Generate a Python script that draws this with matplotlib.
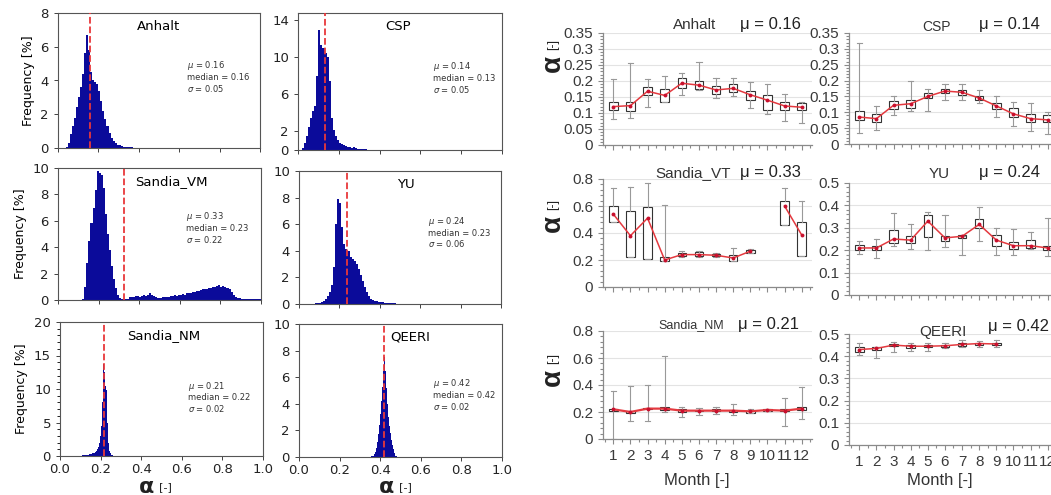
import numpy as np
import matplotlib
matplotlib.use('Agg')
import matplotlib.pyplot as plt
from matplotlib.ticker import MultipleLocator, FixedLocator, NullFormatter

# ---------------- Histogram data (frequency %, per bin) ----------------
anhalt_start, anhalt_bw = 0.04, 0.01
anhalt_freq = [0.05, 0.3, 0.8, 1.3, 1.8, 2.4, 3.0, 3.6, 4.4, 5.6, 6.7, 5.8, 4.5, 4.0,
               3.9, 3.8, 3.4, 2.8, 2.2, 1.7, 1.3, 0.9, 0.6, 0.4, 0.3, 0.2, 0.15, 0.1,
               0.08, 0.06, 0.05, 0.04, 0.03, 0.02]
csp_start, csp_bw = 0.02, 0.01
csp_freq = [0.2, 0.8, 1.5, 2.5, 3.5, 4.2, 4.8, 8.0, 13.0, 11.3, 11.0, 10.5, 10.0, 7.5,
            3.5, 2.2, 1.5, 1.1, 0.8, 0.6, 0.5, 0.4, 0.3, 0.3, 0.25, 0.3, 0.2, 0.15,
            0.1, 0.1, 0.08, 0.06, 0.05, 0.04, 0.03, 0.02]
vm_start, vm_bw = 0.12, 0.01
vm_freq = [0.1, 1.0, 2.8, 4.5, 5.8, 7.0, 8.3, 9.8, 9.6, 9.5, 8.5, 6.5, 5.0, 3.8, 2.6,
           1.6, 0.9, 0.4, 0.15, 0.05, 0.05, 0.05, 0.1, 0.2, 0.25, 0.25, 0.3, 0.3, 0.25,
           0.3, 0.35, 0.3, 0.4, 0.5, 0.4, 0.3, 0.2, 0.15, 0.15, 0.2, 0.2, 0.2, 0.25,
           0.3, 0.3, 0.35, 0.3, 0.35, 0.4, 0.45, 0.4, 0.5, 0.5, 0.55, 0.6, 0.6, 0.65,
           0.7, 0.75, 0.8, 0.8, 0.85, 0.9, 0.9, 0.95, 1.0, 1.05, 1.1, 1.0, 1.05, 0.95,
           0.9, 0.8, 0.6, 0.4, 0.25, 0.15, 0.12, 0.1, 0.1, 0.1, 0.1, 0.1, 0.1, 0.1,
           0.1, 0.1, 0.1]
yu_start, yu_bw = 0.07, 0.01
yu_freq = [0.02, 0.05, 0.08, 0.1, 0.15, 0.25, 0.4, 0.6, 0.9, 1.4, 2.8, 6.0, 7.9, 7.6,
           5.8, 4.5, 4.1, 4.0, 3.5, 3.4, 3.2, 3.0, 2.6, 2.2, 1.7, 1.3, 0.9, 0.6, 0.4,
           0.3, 0.25, 0.2, 0.18, 0.15, 0.12, 0.1, 0.08, 0.07, 0.06, 0.05, 0.04, 0.03,
           0.03, 0.02, 0.02, 0.02, 0.01, 0.01]
nm_start, nm_bw = 0.10, 0.005
nm_freq = [0.05, 0.05, 0.08, 0.1, 0.1, 0.12, 0.15, 0.18, 0.2, 0.25, 0.3, 0.35, 0.4,
           0.5, 0.6, 0.8, 1.0, 1.4, 2.0, 3.0, 4.5, 8.0, 13.7, 12.5, 10.5, 9.8, 5.0,
           2.0, 0.8, 0.4, 0.2, 0.1, 0.05, 0.03]
qe_start, qe_bw = 0.355, 0.005
qe_freq = [0.05, 0.05, 0.1, 0.2, 0.4, 0.7, 1.1, 1.7, 2.4, 3.2, 4.2, 5.3, 6.5, 7.5,
           6.5, 5.2, 4.0, 3.0, 2.3, 1.8, 1.3, 0.9, 0.6, 0.3, 0.1, 0.05]

hist_names = ['Anhalt', 'CSP', 'Sandia_VM', 'YU', 'Sandia_NM', 'QEERI']
hist_mu = [0.16, 0.14, 0.33, 0.24, 0.21, 0.42]
hist_median = [0.16, 0.13, 0.23, 0.23, 0.22, 0.42]
hist_sigma = [0.05, 0.05, 0.22, 0.06, 0.02, 0.02]
hist_line = [0.16, 0.13, 0.325, 0.238, 0.219, 0.42]
hist_ymax = [8, 14.8, 10, 10, 20, 10]
hist_yticks = [[0, 2, 4, 6, 8], [0, 2, 6, 10, 14], [0, 2, 4, 6, 8, 10],
               [0, 2, 4, 6, 8, 10], [0, 5, 10, 15, 20], [0, 2, 4, 6, 8, 10]]
hist_xticks = [0.0, 0.2, 0.4, 0.6, 0.8, 1.0]

# ---------------- Monthly box-plot data ----------------
months = list(range(1, 13))
nan = np.nan
anh_lo = [0.08, 0.085, 0.12, 0.135, 0.157, 0.172, 0.148, 0.152, 0.115, 0.097, 0.075, 0.07]
anh_q1 = [0.11, 0.105, 0.155, 0.135, 0.178, 0.175, 0.16, 0.165, 0.14, 0.11, 0.11, 0.11]
anh_q3 = [0.135, 0.135, 0.18, 0.175, 0.21, 0.2, 0.185, 0.19, 0.17, 0.155, 0.135, 0.13]
anh_hi = [0.205, 0.255, 0.205, 0.215, 0.225, 0.26, 0.21, 0.21, 0.198, 0.19, 0.16, 0.135]
anh_mean = [0.12, 0.123, 0.168, 0.155, 0.193, 0.187, 0.172, 0.177, 0.157, 0.14, 0.122, 0.118]

csp_lo = [0.035, 0.045, 0.09, 0.105, 0.105, 0.14, 0.14, 0.128, 0.085, 0.057, 0.04, 0.03]
csp_q1 = [0.075, 0.07, 0.11, 0.115, 0.145, 0.16, 0.155, 0.14, 0.11, 0.085, 0.07, 0.07]
csp_q3 = [0.105, 0.095, 0.135, 0.14, 0.16, 0.175, 0.17, 0.15, 0.13, 0.115, 0.095, 0.09]
csp_hi = [0.32, 0.12, 0.15, 0.2, 0.172, 0.19, 0.19, 0.17, 0.152, 0.133, 0.128, 0.1]
csp_mean = [0.085, 0.08, 0.122, 0.127, 0.15, 0.167, 0.163, 0.145, 0.12, 0.095, 0.08, 0.076]

vt_lo = [0.48, 0.22, 0.21, 0.19, 0.22, 0.22, 0.225, 0.19, 0.25, nan, 0.46, 0.23]
vt_q1 = [0.48, 0.22, 0.21, 0.19, 0.23, 0.23, 0.23, 0.19, 0.255, nan, 0.46, 0.23]
vt_q3 = [0.6, 0.56, 0.59, 0.22, 0.25, 0.26, 0.245, 0.24, 0.275, nan, 0.64, 0.48]
vt_hi = [0.73, 0.74, 0.77, 0.61, 0.27, 0.27, 0.25, 0.29, 0.28, nan, 0.73, 0.64]
vt_mean = [0.54, 0.38, 0.51, 0.20, 0.24, 0.24, 0.235, 0.215, 0.265, nan, 0.60, 0.385]

yu_lo = [0.185, 0.165, 0.22, 0.205, 0.2, 0.215, 0.18, 0.24, 0.18, 0.18, 0.205, 0.175]
yu_q1 = [0.2, 0.2, 0.23, 0.23, 0.26, 0.24, 0.255, 0.3, 0.22, 0.205, 0.21, 0.2]
yu_q3 = [0.225, 0.22, 0.29, 0.265, 0.355, 0.265, 0.27, 0.34, 0.27, 0.235, 0.245, 0.22]
yu_hi = [0.24, 0.25, 0.365, 0.315, 0.37, 0.355, 0.265, 0.395, 0.3, 0.295, 0.28, 0.345]
yu_mean = [0.21, 0.21, 0.25, 0.245, 0.33, 0.255, 0.262, 0.315, 0.245, 0.22, 0.22, 0.21]

nm_lo = [0.0, 0.135, 0.13, 0.2, 0.165, 0.18, 0.185, 0.18, 0.19, 0.205, 0.1, 0.15]
nm_q1 = [0.21, 0.195, 0.22, 0.215, 0.2, 0.205, 0.205, 0.2, 0.195, 0.21, 0.205, 0.215]
nm_q3 = [0.225, 0.21, 0.23, 0.235, 0.22, 0.215, 0.22, 0.215, 0.21, 0.225, 0.22, 0.235]
nm_hi = [0.355, 0.395, 0.4, 0.615, 0.235, 0.23, 0.235, 0.26, 0.225, 0.225, 0.305, 0.385]
nm_mean = [0.22, 0.2, 0.225, 0.225, 0.21, 0.21, 0.21, 0.21, 0.205, 0.215, 0.21, 0.225]

qe_lo = [0.405, 0.39, 0.42, 0.425, 0.425, 0.435, 0.44, 0.44, 0.44, nan, nan, nan]
qe_q1 = [0.42, 0.43, 0.445, 0.435, 0.44, 0.44, 0.448, 0.45, 0.45, nan, nan, nan]
qe_q3 = [0.44, 0.44, 0.455, 0.45, 0.45, 0.452, 0.458, 0.46, 0.46, nan, nan, nan]
qe_hi = [0.46, 0.44, 0.465, 0.46, 0.46, 0.46, 0.475, 0.47, 0.475, nan, nan, nan]
qe_mean = [0.43, 0.435, 0.45, 0.445, 0.445, 0.447, 0.453, 0.457, 0.455, nan, nan, nan]

box_names = ['Anhalt', 'CSP', 'Sandia_VT', 'YU', 'Sandia_NM', 'QEERI']
box_mu = ['0.16', '0.14', '0.33', '0.24', '0.21', '0.42']
box_ymax = [0.35, 0.35, 0.8, 0.5, 0.8, 0.5]
box_ystep = [0.05, 0.05, 0.2, 0.1, 0.2, 0.1]
box_ylabels = [['0', '0.05', '0.1', '0.15', '0.2', '0.25', '0.3', '0.35'],
               ['0', '0.05', '0.1', '0.15', '0.2', '0.25', '0.3', '0.35'],
               ['0', '0.2', '0.4', '0.6', '0.8'],
               ['0', '0.1', '0.2', '0.3', '0.4', '0.5'],
               ['0', '0.2', '0.4', '0.6', '0.8'],
               ['0', '0.1', '0.2', '0.3', '0.4', '0.5']]

# ---------------- Figure ----------------
W, H = 1051, 495
fig = plt.figure(figsize=(W / 100, H / 100), dpi=100)


def rect(x0, x1, y0, y1):
    return [x0 / W, 1 - y1 / H, (x1 - x0) / W, (y1 - y0) / H]


hist_data = [(anhalt_start, anhalt_bw, anhalt_freq), (csp_start, csp_bw, csp_freq),
             (vm_start, vm_bw, vm_freq), (yu_start, yu_bw, yu_freq),
             (nm_start, nm_bw, nm_freq), (qe_start, qe_bw, qe_freq)]
hist_rects = [(58, 260, 13, 148), (298, 502, 13, 150), (58, 261, 168, 300),
              (299, 501, 171, 304), (60, 263, 322, 456), (299, 502, 324, 457)]
hist_title_x = [0.5, 0.49, 0.56, 0.53, 0.51, 0.55]
hist_stat_pos = [(0.64, 0.53), (0.66, 0.53), (0.63, 0.55), (0.64, 0.54), (0.63, 0.44), (0.66, 0.47)]
navy = '#0b0b9a'

for i in range(6):
    ax = fig.add_axes(rect(*hist_rects[i]))
    s, bw, fr = hist_data[i]
    edges = s + bw * np.arange(len(fr))
    ax.bar(edges, fr, width=bw, align='edge', color=navy, linewidth=0)
    ax.axvline(hist_line[i], color='#e8383a', ls='--', lw=1.3, zorder=3)
    ax.set_xlim(0, 1)
    ax.set_ylim(0, hist_ymax[i])
    ax.set_yticks(hist_yticks[i])
    ax.set_xticks(hist_xticks)
    if i == 4:
        ax.yaxis.set_minor_locator(MultipleLocator(1))
    if i < 4:
        ax.xaxis.set_major_formatter(NullFormatter())
    ax.tick_params(labelsize=9.5, length=3, colors='#222222', width=0.6)
    ax.tick_params(axis='x', pad=2)
    for sp in ax.spines.values():
        sp.set_color('#555555')
        sp.set_linewidth(0.8)
    if i % 2 == 0:
        ax.set_ylabel('Frequency [%]', fontsize=9, labelpad=4)
    ax.text(hist_title_x[i], 0.9, hist_names[i], transform=ax.transAxes,
            ha='center', va='center', fontsize=9.5)
    sx, sy = hist_stat_pos[i]
    ax.text(sx, sy, '$\\mu$ = %.2f\nmedian = %.2f\n$\\sigma$ = %.2f'
            % (hist_mu[i], hist_median[i], hist_sigma[i]),
            transform=ax.transAxes, ha='left', va='center', fontsize=6,
            color='#333333', linespacing=1.1)

for xc in (157, 397):
    fig.text((xc - 3) / W, 1 - 487 / H, 'α', fontsize=16, ha='right', va='center',
             fontweight='bold', color='#222222')
    fig.text((xc + 2) / W, 1 - 487 / H, '[-]', fontsize=8, ha='left', va='center',
             color='#222222')

# ---------------- Box plots ----------------
plt.rcParams['font.family'] = ['Liberation Sans', 'DejaVu Sans']
box_data = [(anh_lo, anh_q1, anh_q3, anh_hi, anh_mean),
            (csp_lo, csp_q1, csp_q3, csp_hi, csp_mean),
            (vt_lo, vt_q1, vt_q3, vt_hi, vt_mean),
            (yu_lo, yu_q1, yu_q3, yu_hi, yu_mean),
            (nm_lo, nm_q1, nm_q3, nm_hi, nm_mean),
            (qe_lo, qe_q1, qe_q3, qe_hi, qe_mean)]
box_rects = [(603, 812, 33, 145), (849, 1058, 33, 144), (603, 812, 179, 287),
             (849, 1058, 183, 295), (603, 812, 331, 439), (849, 1058, 334, 445)]
title_pos = [(0.44, 25, 11, 0.8, 25), (0.42, 27, 10, 0.77, 24), (0.43, 173, 11, 0.8, 172),
             (0.43, 174, 11, 0.77, 173), (0.42, 325, 9, 0.79, 324), (0.45, 332, 11, 0.81, 327)]
red = '#e4393f'

for i in range(6):
    x0, x1, y0, y1 = box_rects[i]
    ax = fig.add_axes(rect(x0, x1, y0, y1))
    lo, q1, q3, hi, mean = box_data[i]
    stats, pos = [], []
    for m, a, b, c, d, e in zip(months, lo, q1, q3, hi, mean):
        if np.isnan(e):
            continue
        stats.append({'whislo': a, 'q1': b, 'med': e, 'q3': c, 'whishi': d,
                      'mean': e, 'fliers': []})
        pos.append(m)
    ax.bxp(stats, positions=pos, widths=0.5, patch_artist=True, showfliers=False,
           boxprops=dict(facecolor='white', edgecolor='#333333', linewidth=0.8),
           whiskerprops=dict(color='#999999', linewidth=0.8),
           capprops=dict(color='#999999', linewidth=0.8),
           medianprops=dict(linewidth=0), capwidths=0.3, manage_ticks=False, zorder=2)
    ax.plot(months, mean, color=red, lw=1.6 if i == 4 else 1.1, marker='o', ms=2.8,
            markerfacecolor='#c8102e', markeredgewidth=0, zorder=4)
    ax.set_xlim(0.4, 12.6)
    ax.set_ylim(0, box_ymax[i])
    yt = np.arange(len(box_ylabels[i])) * box_ystep[i]
    ax.yaxis.set_major_locator(FixedLocator(yt))
    ax.set_yticklabels(box_ylabels[i])
    ax.yaxis.set_minor_locator(MultipleLocator(box_ystep[i] / 5))
    ax.xaxis.set_major_locator(FixedLocator(months))
    ax.xaxis.set_minor_locator(FixedLocator([m + 0.5 for m in range(0, 13)]))
    if i >= 4:
        ax.set_xticklabels([str(m) for m in months])
    else:
        ax.set_xticklabels([])
    ax.grid(axis='y', color='#e3e3e3', lw=0.8, zorder=0)
    ax.set_axisbelow(True)
    for s in ('top', 'right'):
        ax.spines[s].set_visible(False)
    for s in ('left', 'bottom'):
        ax.spines[s].set_color('#8a8a8a')
        ax.spines[s].set_linewidth(0.9)
    ax.tick_params(axis='both', which='both', colors='#8a8a8a', width=0.8)
    ax.tick_params(axis='both', which='major', length=3.5, labelsize=11, labelcolor='#3a3a3a')
    ax.tick_params(axis='both', which='minor', length=2.5)
    ax.tick_params(axis='x', which='major', pad=4)
    tx, ty, tfs, mx, my = title_pos[i]
    fig.text((x0 + tx * (x1 - x0)) / W, 1 - ty / H, box_names[i], fontsize=tfs,
             ha='center', va='center', color='#333333')
    fig.text((x0 + mx * (x1 - x0)) / W, 1 - my / H, 'μ = ' + box_mu[i], fontsize=12,
             ha='center', va='center', color='#222222')

for yc in (63, 223, 377):
    fig.text(553 / W, 1 - yc / H, 'α', fontsize=20, rotation=90, ha='center',
             va='center', fontweight='bold', color='#222222')
    fig.text(553 / W, 1 - (yc - 19) / H, '[-]', fontsize=9, rotation=90, ha='center',
             va='center', color='#222222')

for xc in (697, 940):
    fig.text(xc / W, 1 - 481 / H, 'Month [-]', fontsize=12, ha='center', va='center',
             color='#333333')

fig.savefig('out.png', dpi=100)
